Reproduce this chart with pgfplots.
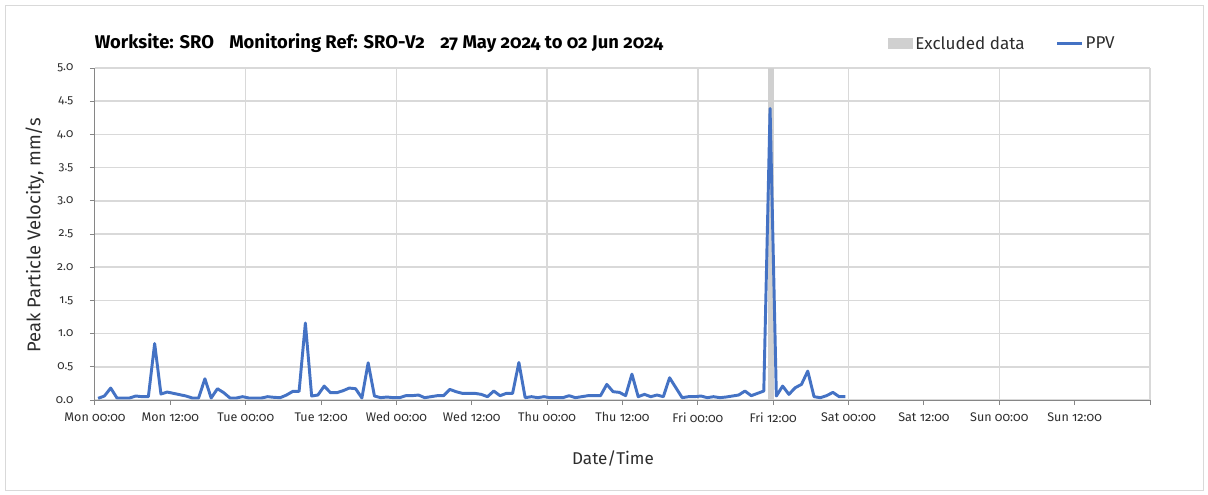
\documentclass[border=0pt]{standalone}
\usepackage{fontspec}
\setmainfont{Fira Sans}[Numbers={OldStyle,Proportional}]
\usepackage{pgfplots}
\pgfplotsset{compat=1.18}
\usepackage{pgfplotstable}
\definecolor{ppv}{RGB}{68,114,196}
\definecolor{excl}{RGB}{208,208,208}
\definecolor{gridc}{RGB}{217,217,217}
\definecolor{axisc}{RGB}{134,134,134}
\definecolor{txt}{RGB}{45,45,45}

\pgfplotstableread{
h v
0.5 0.025
1.5 0.06
2.5 0.18
3.5 0.03
4.5 0.03
5.5 0.03
6.5 0.06
7.5 0.05
8.5 0.05
9.5 0.85
10.5 0.09
11.5 0.12
12.5 0.10
13.5 0.08
14.5 0.06
15.5 0.03
16.5 0.03
17.5 0.32
18.5 0.03
19.5 0.17
20.5 0.11
21.5 0.03
22.5 0.03
23.5 0.05
24.5 0.03
25.5 0.03
26.5 0.03
27.5 0.05
28.5 0.04
29.5 0.035
30.5 0.075
31.5 0.13
32.5 0.13
33.5 1.16
34.5 0.06
35.5 0.075
36.5 0.21
37.5 0.11
38.5 0.11
39.5 0.14
40.5 0.18
41.5 0.17
42.5 0.03
43.5 0.56
44.5 0.06
45.5 0.035
46.5 0.045
47.5 0.035
48.5 0.035
49.5 0.065
50.5 0.065
51.5 0.075
52.5 0.035
53.5 0.05
54.5 0.065
55.5 0.065
56.5 0.16
57.5 0.125
58.5 0.10
59.5 0.10
60.5 0.10
61.5 0.085
62.5 0.05
63.5 0.135
64.5 0.065
65.5 0.10
66.5 0.10
67.5 0.565
68.5 0.035
69.5 0.05
70.5 0.035
71.5 0.05
72.5 0.035
73.5 0.035
74.5 0.035
75.5 0.065
76.5 0.035
77.5 0.05
78.5 0.065
79.5 0.065
80.5 0.065
81.5 0.235
82.5 0.125
83.5 0.115
84.5 0.065
85.5 0.39
86.5 0.05
87.5 0.085
88.5 0.05
89.5 0.075
90.5 0.05
91.5 0.335
92.5 0.185
93.5 0.035
94.5 0.05
95.5 0.05
96.5 0.06
97.5 0.035
98.5 0.05
99.5 0.035
100.5 0.045
101.5 0.06
102.5 0.075
103.5 0.135
104.5 0.065
105.5 0.10
106.5 0.135
107.5 4.39
108.5 0.06
109.5 0.21
110.5 0.085
111.5 0.185
112.5 0.235
113.5 0.435
114.5 0.05
115.5 0.035
116.5 0.065
117.5 0.115
118.5 0.05
119.5 0.05
}\ppvdata

\pgfplotstableread{
h v
107.2 5
108.2 5
}\excldata

\begin{document}
\begin{tikzpicture}
\path[use as bounding box, fill=white] (0,0) rectangle (906pt,370.5pt);
\draw[gridc, line width=0.75pt] (3.75pt,3pt) rectangle (902.25pt,366.5pt);
\begin{axis}[
  at={(71.25pt,70.5pt)}, anchor=south west, scale only axis,
  width=791.25pt, height=249pt,
  xmin=0, xmax=168, ymin=0, ymax=5,
  axis lines=left,
  axis line style={-, draw=axisc, line width=0.75pt},
  xtick pos=bottom, ytick pos=left, tick align=outside,
  major tick length=3.75pt, minor tick length=0pt,
  tick style={draw=axisc, line width=0.75pt},
  xtick={0,12,24,36,48,60,72,84,96,108,120,132,144,156,168},
  xticklabels={Mon 00:00, Mon 12:00, Tue 00:00, Tue 12:00, Wed 00:00, Wed 12:00, Thu 00:00, Thu 12:00, Fri 00:00, Fri 12:00, Sat 00:00, Sat 12:00, Sun 00:00, Sun 12:00, {}},
  minor xtick={24,48,72,96,120,144,168},
  ytick={0,0.5,1,1.5,2,2.5,3,3.5,4,4.5,5},
  xminorgrids=true, ymajorgrids=true, xmajorgrids=false,
  minor grid style={draw=gridc, line width=1.1pt},
  major grid style={draw=gridc, line width=1.1pt},
  /pgf/number format/assume math mode=true,
  yticklabel style={/pgf/number format/.cd, fixed, fixed zerofill, precision=1, /tikz/.cd, font=\fontsize{9}{11}\selectfont, text=txt, xshift=-9pt},
  xticklabel style={font=\fontsize{9.4}{11}\selectfont, text=txt, yshift=-2pt},
  ylabel={Peak Particle Velocity, mm/s},
  xlabel={Date/Time},
  every axis y label/.style={at={(axis description cs:-0.057,0.497)}, rotate=90, anchor=center, font=\fontsize{13.8}{16}\selectfont, text=txt},
  every axis x label/.style={at={(axis description cs:0.491,-0.175)}, anchor=center, font=\fontsize{12.8}{15}\selectfont, text=txt},
  legend style={draw=none, fill=none, inner sep=0pt, at={(0.7517,1.0729)}, anchor=west,
    font=\fontsize{12.8}{15}\selectfont, nodes={inner sep=1.5pt, text=txt},
    /tikz/every even column/.append style={column sep=22pt}},
  legend columns=2, legend cell align=left,
]
\addplot[draw=none, fill=excl,
  legend image code/.code={\fill[excl] (0pt,-4.1pt) rectangle (18.75pt,4.1pt);}]
  table[x=h, y=v]{\excldata} \closedcycle;
\addlegendentry{Excluded data}
\addplot[ppv, line width=2.2pt, line join=round,
  legend image code/.code={\draw[ppv, line width=2pt] (0pt,0pt) -- (18.75pt,0pt);}]
  table[x=h, y=v]{\ppvdata};
\addlegendentry{PPV}
\end{axis}
\node[anchor=base west, inner sep=0pt, font=\bfseries\fontsize{13.8}{16}\selectfont] at (70.9pt,334.1pt) {Worksite: SRO};
\node[anchor=base west, inner sep=0pt, font=\bfseries\fontsize{13.8}{16}\selectfont] at (171.75pt,334.1pt) {Monitoring Ref: SRO-V2};
\node[anchor=base west, inner sep=0pt, font=\bfseries\fontsize{13.8}{16}\selectfont] at (330pt,334.1pt) {27 May 2024 to 02 Jun 2024};
\end{tikzpicture}
\end{document}
